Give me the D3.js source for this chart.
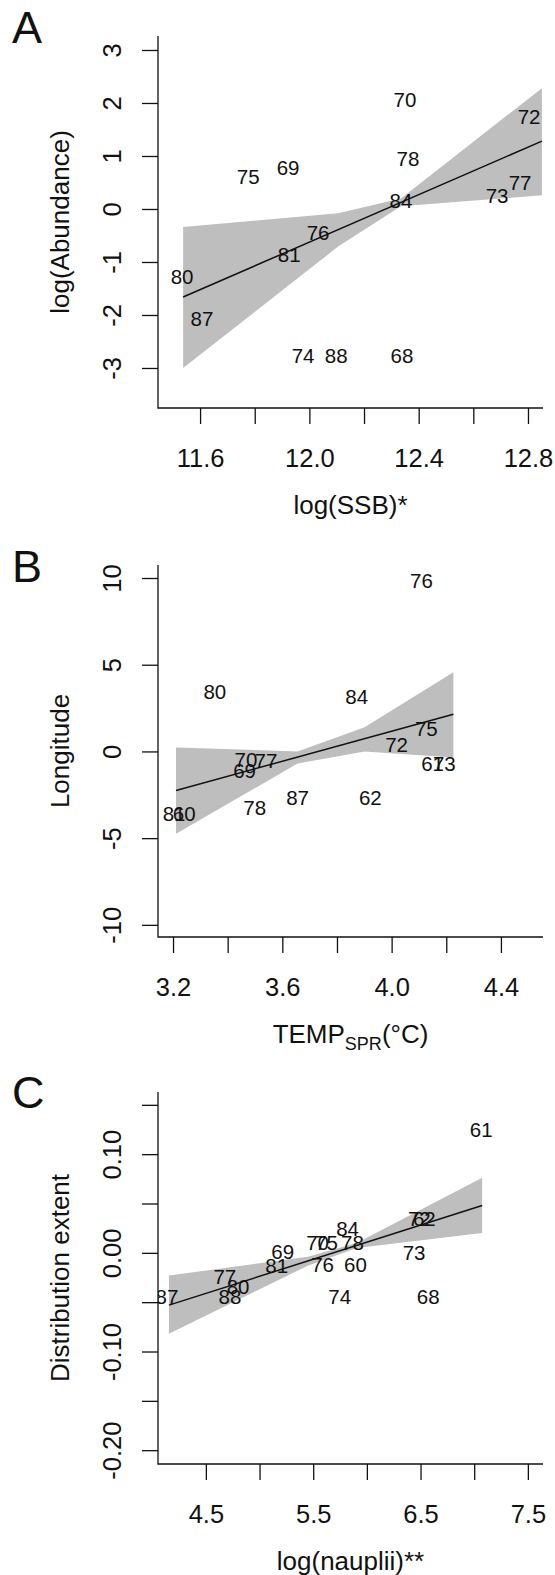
<html>
<head>
  <script src="https://d3js.org/d3.v7.min.js"></script>
  <style>
    body { margin: 0; background: white; }
    text { font-family: "Liberation Sans", Arial, sans-serif; fill: #111; }
  </style>
</head>
<body>
  <svg id="fig" width="555" height="1575" style="background: white;"></svg>
  <script>
    // ---- panel A : log(Abundance) vs log(SSB)
    const yearsA = [70, 72, 75, 69, 78, 84, 73, 77, 76, 81, 80, 87, 74, 88, 68];
    const ssbA = [12.35, 12.804, 11.776, 11.922, 12.361, 12.335, 12.687, 12.771, 12.032, 11.926, 11.534, 11.607, 11.977, 12.098, 12.339];
    const abundA = [2.06, 1.74, 0.60, 0.77, 0.94, 0.15, 0.25, 0.49, -0.45, -0.87, -1.28, -2.08, -2.77, -2.77, -2.77];
    const bandXA = [11.538, 12.105, 12.335, 12.851];
    const bandHiA = [-0.34, -0.08, 0.20, 2.28];
    const bandLoA = [-3.0, -0.71, 0.05, 0.26];
    const fitXA = [11.538, 12.851];
    const fitYA = [-1.66, 1.28];
    const xTicksA = [11.6, 11.8, 12.0, 12.2, 12.4, 12.6, 12.8];
    const xTickLabelsA = ["11.6", "", "12.0", "", "12.4", "", "12.8"];
    const yTicksA = [-3, -2, -1, 0, 1, 2, 3];
    const yTickLabelsA = ["-3", "-2", "-1", "0", "1", "2", "3"];

    // ---- panel B : Longitude vs spring temperature
    const yearsB = [76, 80, 84, 75, 72, 61, 73, 70, 77, 69, 81, 60, 78, 87, 62];
    const tempB = [4.109, 3.353, 3.872, 4.127, 4.018, 4.150, 4.193, 3.467, 3.540, 3.462, 3.204, 3.241, 3.499, 3.656, 3.922];
    const lonB = [9.83, 3.41, 3.12, 1.33, 0.40, -0.69, -0.69, -0.46, -0.56, -1.10, -3.58, -3.58, -3.24, -2.66, -2.66];
    const bandXB = [3.211, 3.656, 3.901, 4.226];
    const bandHiB = [0.23, 0.0, 1.39, 4.57];
    const bandLoB = [-4.74, -0.70, -0.01, -0.35];
    const fitXB = [3.211, 4.226];
    const fitYB = [-2.25, 2.14];
    const xTicksB = [3.2, 3.4, 3.6, 3.8, 4.0, 4.2, 4.4];
    const xTickLabelsB = ["3.2", "", "3.6", "", "4.0", "", "4.4"];
    const yTicksB = [-10, -5, 0, 5, 10];
    const yTickLabelsB = ["-10", "-5", "0", "5", "10"];

    // ---- panel C : Distribution extent vs log(nauplii)
    const yearsC = [61, 72, 62, 84, 70, 75, 78, 73, 69, 81, 76, 60, 77, 80, 88, 87, 74, 68];
    const nauplC = [7.065, 6.489, 6.535, 5.820, 5.541, 5.625, 5.866, 6.44, 5.216, 5.16, 5.587, 5.894, 4.677, 4.80, 4.725, 4.138, 5.747, 6.572];
    const distC = [0.125, 0.034, 0.034, 0.024, 0.010, 0.010, 0.010, 0.000, 0.001, -0.013, -0.012, -0.012, -0.024, -0.034, -0.045, -0.045, -0.045, -0.045];
    const bandXC = [4.156, 5.45, 5.905, 7.074];
    const bandHiC = [-0.023, -0.004, 0.010, 0.076];
    const bandLoC = [-0.082, -0.013, 0.005, 0.020];
    const fitXC = [4.156, 7.074];
    const fitYC = [-0.053, 0.048];
    const xTicksC = [4.5, 5.0, 5.5, 6.0, 6.5, 7.0, 7.5];
    const xTickLabelsC = ["4.5", "", "5.5", "", "6.5", "", "7.5"];
    const yTicksC = [-0.20, -0.15, -0.10, -0.05, 0.00, 0.05, 0.10, 0.15];
    const yTickLabelsC = ["-0.20", "", "-0.10", "", "0.00", "", "0.10", ""];

    const svg = d3.select("svg#fig");
    const left = 158, right = 543, plotH = 372;

    function drawPanel(p, idx) {
      const top = p.top, bottom = p.top + plotH;
      const x = d3.scaleLinear().domain(p.xDomain).range([left, right]);
      const y = d3.scaleLinear().domain(p.yDomain).range([bottom, top]);
      const g = svg.append("g");

      g.append("clipPath").attr("id", "clip" + idx)
        .append("rect").attr("x", left).attr("y", top)
        .attr("width", right - left).attr("height", plotH);
      const inner = g.append("g").attr("clip-path", `url(#clip${idx})`);

      // confidence band
      const area = d3.area()
        .x(i => x(p.bandX[i]))
        .y0(i => y(p.bandLo[i]))
        .y1(i => y(p.bandHi[i]));
      inner.append("path")
        .attr("d", area(d3.range(p.bandX.length)))
        .attr("fill", "#bebebe");

      // fitted line
      const line = d3.line().x(i => x(p.fitX[i])).y(i => y(p.fitY[i]));
      inner.append("path")
        .attr("d", line(d3.range(p.fitX.length)))
        .attr("fill", "none")
        .attr("stroke", "#111")
        .attr("stroke-width", 1.5);

      // year labels
      inner.selectAll("text.yr").data(p.years)
        .join("text")
        .attr("class", "yr")
        .attr("x", (d, i) => x(p.xs[i]))
        .attr("y", (d, i) => y(p.ys[i]))
        .attr("dy", "0.35em")
        .attr("text-anchor", "middle")
        .attr("font-size", 20.5)
        .text(d => d);

      // axes
      let bottomAxis = d3.axisBottom(x)
        .tickValues(p.xTicks)
        .tickSize(16)
        .tickPadding(25)
        .tickFormat((d, i) => p.xTickLabels[i]);
      let gx = g.append("g")
        .attr("transform", `translate(0,${bottom})`)
        .call(bottomAxis);
      gx.select(".domain").remove();
      gx.selectAll("line").attr("stroke", "#111").attr("stroke-width", 1.3);
      gx.selectAll("text").attr("font-size", 25.5).attr("fill", "#111");

      let leftAxis = d3.axisLeft(y)
        .tickValues(p.yTicks)
        .tickSize(16)
        .tickFormat((d, i) => p.yTickLabels[i]);
      let gy = g.append("g")
        .attr("transform", `translate(${left},0)`)
        .call(leftAxis);
      gy.select(".domain").remove();
      gy.selectAll("line").attr("stroke", "#111").attr("stroke-width", 1.3);
      gy.selectAll("text")
        .attr("x", 0)
        .attr("dy", "0.35em")
        .attr("text-anchor", "middle")
        .attr("transform", `translate(${112 - left},0) rotate(-90)`)
        .attr("font-size", 25.5)
        .attr("fill", "#111");

      // L shaped box
      g.append("path")
        .attr("d", `M${left},${top}V${bottom}H${right}`)
        .attr("fill", "none")
        .attr("stroke", "#111")
        .attr("stroke-width", 1.3);

      // axis titles
      let xt = g.append("text")
        .attr("x", (left + right) / 2)
        .attr("y", bottom + 97)
        .attr("dy", "0.35em")
        .attr("text-anchor", "middle")
        .attr("font-size", 26);
      p.xTitle(xt);

      g.append("text")
        .attr("transform", `translate(60,${(top + bottom) / 2}) rotate(-90)`)
        .attr("dy", "0.35em")
        .attr("text-anchor", "middle")
        .attr("font-size", 26)
        .text(p.yTitle);

      // panel letter
      g.append("text")
        .attr("x", 12)
        .attr("y", p.letterY)
        .attr("font-size", 45)
        .attr("fill", "#222")
        .text(p.letter);
    }

    drawPanel({
      top: 36, letter: "A", letterY: 43,
      xDomain: [11.446, 12.855], yDomain: [-3.755, 3.264],
      years: yearsA, xs: ssbA, ys: abundA,
      bandX: bandXA, bandHi: bandHiA, bandLo: bandLoA, fitX: fitXA, fitY: fitYA,
      xTicks: xTicksA, xTickLabels: xTickLabelsA, yTicks: yTicksA, yTickLabels: yTickLabelsA,
      xTitle: t => t.text("log(SSB)*"), yTitle: "log(Abundance)"
    }, 0);

    drawPanel({
      top: 565, letter: "B", letterY: 582,
      xDomain: [3.145, 4.554], yDomain: [-10.7, 10.75],
      years: yearsB, xs: tempB, ys: lonB,
      bandX: bandXB, bandHi: bandHiB, bandLo: bandLoB, fitX: fitXB, fitY: fitYB,
      xTicks: xTicksB, xTickLabels: xTickLabelsB, yTicks: yTicksB, yTickLabels: yTickLabelsB,
      xTitle: t => {
        t.append("tspan").text("TEMP");
        t.append("tspan").attr("font-size", 18).attr("dy", 7).text("SPR");
        t.append("tspan").attr("dy", -7).text("(°C)");
      },
      yTitle: "Longitude"
    }, 1);

    drawPanel({
      top: 1092, letter: "C", letterY: 1108,
      xDomain: [4.054, 7.641], yDomain: [-0.214, 0.163],
      years: yearsC, xs: nauplC, ys: distC,
      bandX: bandXC, bandHi: bandHiC, bandLo: bandLoC, fitX: fitXC, fitY: fitYC,
      xTicks: xTicksC, xTickLabels: xTickLabelsC, yTicks: yTicksC, yTickLabels: yTickLabelsC,
      xTitle: t => t.text("log(nauplii)**"), yTitle: "Distribution extent"
    }, 2);
  </script>
</body>
</html>
